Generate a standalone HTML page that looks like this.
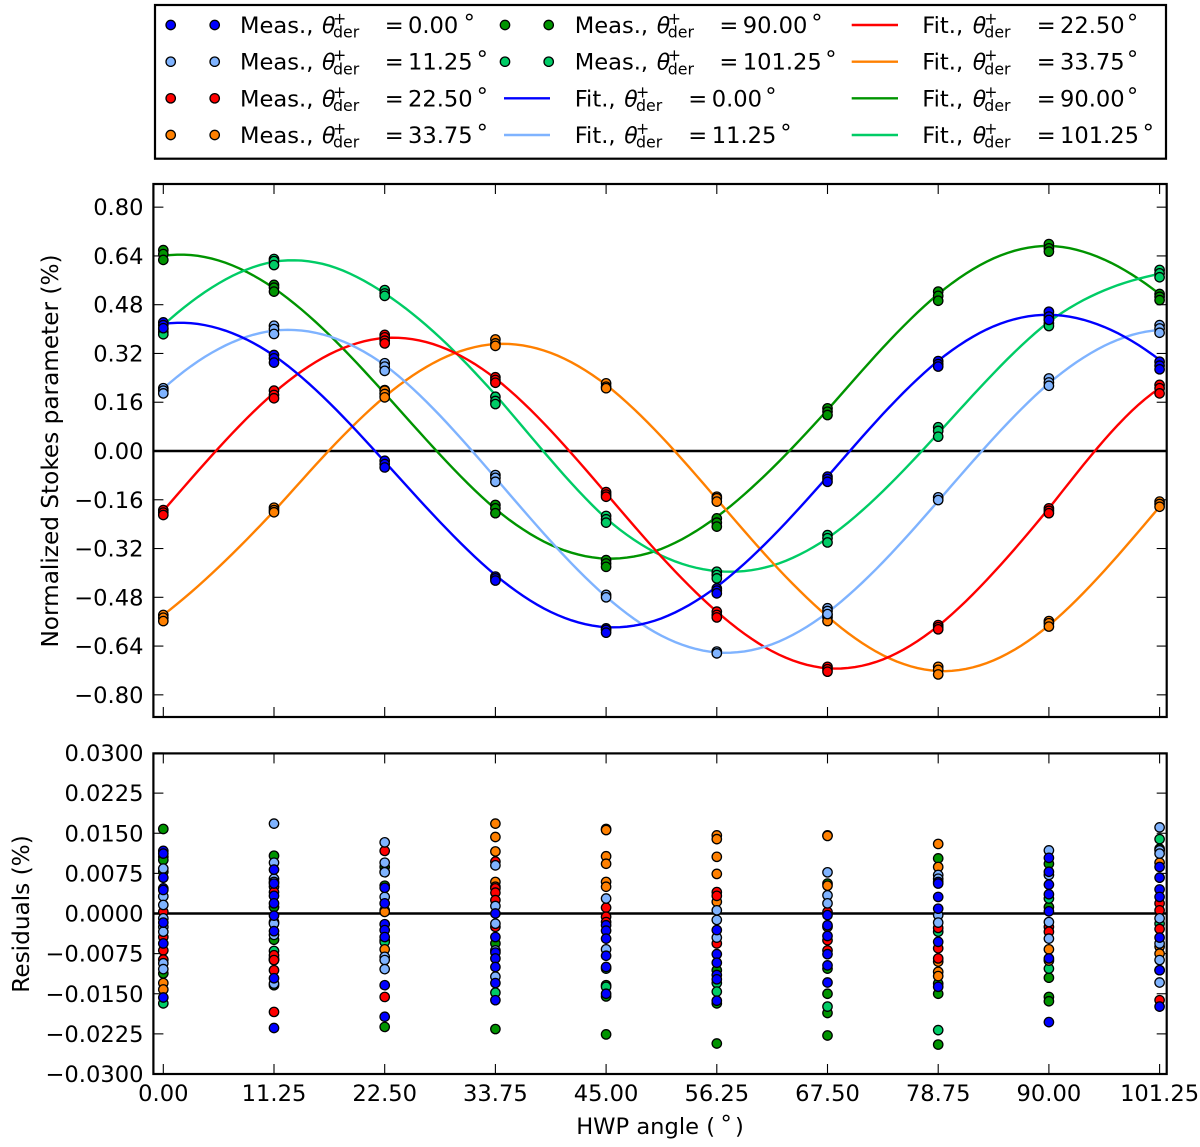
<!DOCTYPE html>
<html lang="en">
<head>
<meta charset="utf-8">
<title>Normalized Stokes parameter fits and residuals</title>
<style>
html,body{margin:0;padding:0;background:#fff;}
svg{display:block;}
text{font-family:"DejaVu Sans","Liberation Sans",sans-serif;font-size:22.6px;fill:#000;}
.th{font-style:italic;font-size:22px;}
.sub{font-size:15.8px;}
.mk{stroke:#000;stroke-width:1.3;}
.title{font-size:23.2px;}
</style>
</head>
<body>
<svg id="chart" xmlns="http://www.w3.org/2000/svg" width="1200" height="1147" viewBox="0 0 1200 1147">
<rect x="0" y="0" width="1200" height="1147" fill="#fff"/>

<g id="legend">
<rect x="155" y="5" width="1011" height="153.7" fill="#fff" stroke="#000" stroke-width="2.2"/>

<g transform="translate(240,25)">
<circle class="mk" cx="-69.3" r="4.7" fill="#0000ff"/><circle class="mk" cx="-25.3" r="4.7" fill="#0000ff"/>
<text x="0" y="8">Meas.,</text><text class="th" x="82" y="8">θ</text><text class="sub" x="93" y="-1">+</text><text class="sub" x="93" y="12.7">der</text><text x="144.7" y="8">=</text><text x="168" y="8">0.00</text><text x="223.6" y="5">°</text>
</g>
<g transform="translate(240,61.7)">
<circle class="mk" cx="-69.3" r="4.7" fill="#7fb3ff"/><circle class="mk" cx="-25.3" r="4.7" fill="#7fb3ff"/>
<text x="0" y="8">Meas.,</text><text class="th" x="82" y="8">θ</text><text class="sub" x="93" y="-1">+</text><text class="sub" x="93" y="12.7">der</text><text x="144.7" y="8">=</text><text x="168" y="8">11.25</text><text x="236.6" y="5">°</text>
</g>
<g transform="translate(240,98.3)">
<circle class="mk" cx="-69.3" r="4.7" fill="#ff0000"/><circle class="mk" cx="-25.3" r="4.7" fill="#ff0000"/>
<text x="0" y="8">Meas.,</text><text class="th" x="82" y="8">θ</text><text class="sub" x="93" y="-1">+</text><text class="sub" x="93" y="12.7">der</text><text x="144.7" y="8">=</text><text x="168" y="8">22.50</text><text x="236.6" y="5">°</text>
</g>
<g transform="translate(240,135)">
<circle class="mk" cx="-69.3" r="4.7" fill="#ff8000"/><circle class="mk" cx="-25.3" r="4.7" fill="#ff8000"/>
<text x="0" y="8">Meas.,</text><text class="th" x="82" y="8">θ</text><text class="sub" x="93" y="-1">+</text><text class="sub" x="93" y="12.7">der</text><text x="144.7" y="8">=</text><text x="168" y="8">33.75</text><text x="236.6" y="5">°</text>
</g>

<g transform="translate(574.7,25)">
<circle class="mk" cx="-69.7" r="4.7" fill="#009400"/><circle class="mk" cx="-26" r="4.7" fill="#009400"/>
<text x="0" y="8">Meas.,</text><text class="th" x="82" y="8">θ</text><text class="sub" x="93" y="-1">+</text><text class="sub" x="93" y="12.7">der</text><text x="144.7" y="8">=</text><text x="168" y="8">90.00</text><text x="236.6" y="5">°</text>
</g>
<g transform="translate(574.7,61.7)">
<circle class="mk" cx="-69.7" r="4.7" fill="#00cc66"/><circle class="mk" cx="-26" r="4.7" fill="#00cc66"/>
<text x="0" y="8">Meas.,</text><text class="th" x="82" y="8">θ</text><text class="sub" x="93" y="-1">+</text><text class="sub" x="93" y="12.7">der</text><text x="144.7" y="8">=</text><text x="168" y="8">101.25</text><text x="250.5" y="5">°</text>
</g>
<g transform="translate(574.7,98.3)">
<line x1="-70.7" x2="-24.7" y1="0" y2="0" stroke="#0000ff" stroke-width="2.4"/>
<text x="0" y="8">Fit.,</text><text class="th" x="49.6" y="8">θ</text><text class="sub" x="61.3" y="-1">+</text><text class="sub" x="61.3" y="12.7">der</text><text x="113.6" y="8">=</text><text x="137" y="8">0.00</text><text x="190.6" y="5">°</text>
</g>
<g transform="translate(574.7,135)">
<line x1="-70.7" x2="-24.7" y1="0" y2="0" stroke="#7fb3ff" stroke-width="2.4"/>
<text x="0" y="8">Fit.,</text><text class="th" x="49.6" y="8">θ</text><text class="sub" x="61.3" y="-1">+</text><text class="sub" x="61.3" y="12.7">der</text><text x="113.6" y="8">=</text><text x="137" y="8">11.25</text><text x="205.6" y="5">°</text>
</g>

<g transform="translate(922.3,25)">
<line x1="-70.6" x2="-24.3" y1="0" y2="0" stroke="#ff0000" stroke-width="2.4"/>
<text x="0" y="8">Fit.,</text><text class="th" x="50.4" y="8">θ</text><text class="sub" x="62" y="-1">+</text><text class="sub" x="62" y="12.7">der</text><text x="114.4" y="8">=</text><text x="137.7" y="8">22.50</text><text x="204.6" y="5">°</text>
</g>
<g transform="translate(922.3,61.7)">
<line x1="-70.6" x2="-24.3" y1="0" y2="0" stroke="#ff8000" stroke-width="2.4"/>
<text x="0" y="8">Fit.,</text><text class="th" x="50.4" y="8">θ</text><text class="sub" x="62" y="-1">+</text><text class="sub" x="62" y="12.7">der</text><text x="114.4" y="8">=</text><text x="137.7" y="8">33.75</text><text x="204.6" y="5">°</text>
</g>
<g transform="translate(922.3,98.3)">
<line x1="-70.6" x2="-24.3" y1="0" y2="0" stroke="#009400" stroke-width="2.4"/>
<text x="0" y="8">Fit.,</text><text class="th" x="50.4" y="8">θ</text><text class="sub" x="62" y="-1">+</text><text class="sub" x="62" y="12.7">der</text><text x="114.4" y="8">=</text><text x="137.7" y="8">90.00</text><text x="204.6" y="5">°</text>
</g>
<g transform="translate(922.3,135)">
<line x1="-70.6" x2="-24.3" y1="0" y2="0" stroke="#00cc66" stroke-width="2.4"/>
<text x="0" y="8">Fit.,</text><text class="th" x="50.4" y="8">θ</text><text class="sub" x="62" y="-1">+</text><text class="sub" x="62" y="12.7">der</text><text x="114.4" y="8">=</text><text x="137.7" y="8">101.25</text><text x="220.3" y="5">°</text>
</g>
</g>

<text class="title" x="0" y="0" text-anchor="middle" transform="translate(58,451) rotate(-90)">Normalized Stokes parameter (%)</text>
<text class="title" x="0" y="0" text-anchor="middle" transform="translate(29,914) rotate(-90)">Residuals (%)</text>
<g>
<text x="576.2" y="1134">HWP angle (</text><text x="720.5" y="1131">°</text><text x="735" y="1134">)</text>
</g>

<g id="topPlot"></g>
<g id="botPlot"></g>
</svg>

<script>
// ---- shared categories and tick labels ----
const hwpAngles = [0, 11.25, 22.5, 33.75, 45, 56.25, 67.5, 78.75, 90, 101.25];
const xTickLabels = ["0.00", "11.25", "22.50", "33.75", "45.00", "56.25", "67.50", "78.75", "90.00", "101.25"];
const topTickValues = [0.8, 0.64, 0.48, 0.32, 0.16, 0, -0.16, -0.32, -0.48, -0.64, -0.8];
const topTickLabels = ["0.80", "0.64", "0.48", "0.32", "0.16", "0.00", "\u22120.16", "\u22120.32", "\u22120.48", "\u22120.64", "\u22120.80"];
const botTickValues = [0.03, 0.0225, 0.015, 0.0075, 0, -0.0075, -0.015, -0.0225, -0.03];
const botTickLabels = ["0.0300", "0.0225", "0.0150", "0.0075", "0.0000", "\u22120.0075", "\u22120.0150", "\u22120.0225", "\u22120.0300"];

// ---- fitted curves, sampled every fitStep degrees of HWP angle ----
const fitStep = 5.625;
const fit000 = [.417,.402,.313,.158,-.035,-.233,-.407,-.528,-.578,-.549,-.445,-.282,-.084,.121,.296,.409,.447,.407,.299];
const fit1125 = [.205,.335,.395,.376,.282,.116,-.088,-.296,-.478,-.606,-.661,-.634,-.530,-.365,-.164,.042,.222,.345,.397];
const fit2250 = [-.196,.010,.191,.317,.371,.343,.238,.067,-.139,-.347,-.527,-.657,-.713,-.684,-.574,-.399,-.188,.036,.206];
const fit3375 = [-.538,-.381,-.197,.003,.178,.300,.351,.322,.217,.047,-.158,-.365,-.543,-.670,-.722,-.687,-.572,-.393,-.183];
const fit9000 = [.640,.625,.534,.381,.189,-.012,-.190,-.308,-.353,-.321,-.216,-.057,.135,.339,.515,.632,.673,.628,.515];
const fit10125 = [.413,.550,.621,.608,.517,.372,.184,-.029,-.221,-.343,-.394,-.376,-.286,-.132,.058,.255,.424,.527,.581];

// ---- measurements: one list per HWP angle ----
const meas000 = [[.422,.413,.403],[.315,.304,.290],[-.032,-.043,-.054],[-.412,-.418,-.425],[-.582,-.587,-.596],[-.451,-.458,-.467],[-.084,-.092,-.101],[.295,.285,.277],[.457,.441,.430],[.293,.280,.268]];
const meas1125 = [[.206,.198,.189],[.411,.400,.384],[.288,.277,.263],[-.079,-.088,-.101],[-.472,-.480],[-.658,-.664],[-.516,-.525,-.535],[-.152,-.161],[.238,.225,.214],[.413,.402,.388]];
const meas2250 = [[-.194,-.202,-.210],[.198,.184,.173],[.381,.373,.362,.353],[.242,.233,.224],[-.135,-.143,-.150],[-.527,-.538,-.546],[-.708,-.716,-.724],[-.571,-.578,-.585],[-.188,-.196,-.204],[.217,.206,.189]];
const meas3375 = [[-.538,-.547,-.558],[-.186,-.194,-.201],[.198,.187,.176],[.366,.353,.345],[.222,.211,.206],[-.150,-.155,-.166],[-.538,-.546,-.558],[-.708,-.718,-.733],[-.558,-.565,-.576],[-.166,-.174,-.183]];
const meas9000 = [[.659,.646,.627],[.545,.536,.523],[.200,.190,.180],[-.177,-.188,-.204],[-.358,-.369,-.380],[-.221,-.235,-.248],[.140,.129,.118],[.523,.509,.493],[.679,.665,.654],[.515,.506,.495]];
const meas10125 = [[.400,.390,.383],[.630,.623,.610],[.528,.517,.509],[.178,.164,.154],[-.213,-.224,-.235],[-.396,-.407,-.418],[-.276,-.286,-.300],[.078,.066,.047],[.432,.419,.410],[.594,.583,.570]];

// ---- residuals in units of 0.001 %, one list per HWP angle ----
const residualUnit = 0.001;
const res000 = [[11.7,11.2,6.7,4.7,4.4,-1.7,-5.6,-15.7],[8.2,5.6,3.3,1.9,-0.4,-3.3,-12.1,-21.4],[4.8,1.9,-2.0,-3.1,-4.4,-13.4,-19.3],[0,-4.4,-7.3,-8.4,-10.0,-13.0,-16.2],[-2.2,-3.2,-4.7,-7.9,-10.0,-15.0],[-3.1,-7.6,-9.2,-11.5,-12.3,-16.3],[-0.3,-2.2,-4.2,-7.6,-9.7,-12.9],[5.9,5.6,3.1,0.9,-5.3,-13.7],[10.4,7.8,5.4,3.6,0.4,-8.4,-20.3],[8.7,6.7,4.5,3.1,-4.5,-10.6,-17.4]];
const res1125 = [[8.4,3.2,1.6,-0.9,-2.5,-3.4,-9.3,-10.4],[16.8,9.5,6.5,5.9,-1.6,-1.9,-4.0,-13.1],[13.3,9.5,7.7,3.1,-8.1,-8.7,-10.4],[9.0,1.4,-1.9,-6.9,-11.8],[2.8,-6.7],[0.6,-1.2,-4.5],[7.7,3.4,1.9],[7.2,6.5,-0.3,-1.7],[11.8,7.2,-1.6,-4.7],[16.1,11.8,11.2,-0.9,-5.6,-8.7,-12.9]];
const res2250 = [[0.3,-4.4,-6.9,-8.6],[4.0,-7.8,-8.7,-10.6,-18.4],[11.7,-15.6],[9.7,4.7,3.9,2.5,-2.5],[1.1,-0.6,-1.6],[4.0,3.3,-5.6],[0.3,-5.0,-6.9],[-2.7,-6.5,-8.4],[-2.5,-3.4],[1.9,0.6,-2.9,-16.2]];
const res3375 = [[-13.0,-14.2],[5.0,-8.4],[0.6,0.3,-6.7],[16.8,14.3,11.6,5.9,5.0],[15.6,10.7,9.3,5.9,5.0],[14.6,13.9,10.6,7.4,2.2],[14.5,5.2,-2.5],[13.0,8.7,-9.0,-10.9,-11.7],[-6.7,-8.8],[9.5,-6.2,-7.5]];
const res9000 = [[15.8,10.6,10.0,7.8,-11.2],[10.8,1.2,-4.9,-8.7,-13.4],[8.7,5.2,-5.0,-21.2],[-5.6,-21.6],[15.8,-13.4,-15.5,-22.6],[-10.6,-16.8,-24.3],[14.6,5.6,-10.3,-15.0,-18.6,-22.8],[10.3,-13.1,-15.0,-24.5],[9.3,1.2,-12.0,-15.6,-16.4],[12.1,-10.6]];
const res10125 = [[-16.8],[-7.0],[7.8,-5.3],[-14.8],[-10.3,-13.7],[-13.0,-14.6],[-17.4],[-3.4,-21.8],[2.8,-10.3],[13.9,-1.9]];

const seriesNames = ["90-00", "101-25", "33-75", "22-50", "11-25", "0-00"];
const seriesColors = ["#009400", "#00cc66", "#ff8000", "#ff0000", "#7fb3ff", "#0000ff"];
const seriesFits = [fit9000, fit10125, fit3375, fit2250, fit1125, fit000];
const seriesMeas = [meas9000, meas10125, meas3375, meas2250, meas1125, meas000];
const seriesRes = [res9000, res10125, res3375, res2250, res1125, res000];

// ---- axis functions ----
const AX_LEFT = 153.4, AX_RIGHT = 1166.7;
const TOP_T = 184, TOP_B = 717, BOT_T = 753.4, BOT_B = 1074;
function xScale(v) { return 163.3 + v * 9.84; }
function yTop(v) { return 451 - v * 304.8; }
function yBot(v) { return 913.5 - v * 5350; }

const NS = "http://www.w3.org/2000/svg";
function el(parent, tag, attrs) {
  const e = document.createElementNS(NS, tag);
  for (const k in attrs) e.setAttribute(k, attrs[k]);
  parent.appendChild(e);
  return e;
}

function densePath(values) {
  // smooth local cubic through the sampled fit values
  let d = "";
  const n = values.length;
  for (let i = 0; i < n - 1; i++) {
    const s = Math.max(0, Math.min(n - 4, i - 1));
    for (let k = 0; k <= 8; k++) {
      if (i > 0 && k === 0) continue;
      const t = i + k / 8;
      let y = 0;
      for (let a = 0; a < 4; a++) {
        let w = 1;
        for (let b = 0; b < 4; b++) if (b !== a) w *= (t - (s + b)) / (a - b);
        y += w * values[s + a];
      }
      d += (d ? "L" : "M") + xScale(t * fitStep).toFixed(2) + " " + yTop(y).toFixed(2);
    }
  }
  return d;
}

function drawAxes(g, prefix, top, bottom, yFn, tickValues, tickLabels) {
  for (let i = 0; i < hwpAngles.length; i++) {
    const x = xScale(hwpAngles[i]);
    const t1 = el(g, "line", {x1: x, x2: x, y1: bottom, y2: bottom - 10, stroke: "#000", "stroke-width": 1.1});
    
    
    const t2 = el(g, "line", {x1: x, x2: x, y1: top, y2: top + 10, stroke: "#000", "stroke-width": 1.1});
    
    
  }
  for (let i = 0; i < tickValues.length; i++) {
    const y = yFn(tickValues[i]);
    const t1 = el(g, "line", {x1: AX_LEFT, x2: AX_LEFT + 10, y1: y, y2: y, stroke: "#000", "stroke-width": 1.1});
    
    
    const t2 = el(g, "line", {x1: AX_RIGHT, x2: AX_RIGHT - 10, y1: y, y2: y, stroke: "#000", "stroke-width": 1.1});
    
    
    const lab = el(g, "text", {x: 143.5, y: y + 8, "text-anchor": "end"});
    lab.textContent = tickLabels[i];
    
    
  }
  const zero = el(g, "line", {x1: AX_LEFT, x2: AX_RIGHT, y1: yFn(0), y2: yFn(0), stroke: "#000", "stroke-width": 2.4});
  
  
}

function drawFrame(g, prefix, top, bottom) {
  const f = el(g, "rect", {x: AX_LEFT, y: top, width: AX_RIGHT - AX_LEFT, height: bottom - top, fill: "none", stroke: "#000", "stroke-width": 2.2});
  
  
}

// ---- top panel ----
const gTop = document.getElementById("topPlot");
drawAxes(gTop, "stokes", TOP_T, TOP_B, yTop, topTickValues, topTickLabels);
for (let s = 0; s < seriesFits.length; s++) {
  const p = el(gTop, "path", {d: densePath(seriesFits[s]), fill: "none", stroke: seriesColors[s], "stroke-width": 2.4});
  
  
}
for (let s = 0; s < seriesMeas.length; s++) {
  for (let c = 0; c < hwpAngles.length; c++) {
    for (const v of seriesMeas[s][c]) {
      const m = el(gTop, "circle", {cx: xScale(hwpAngles[c]), cy: yTop(v), r: 4.7, fill: seriesColors[s], stroke: "#000", "stroke-width": 1.3});
      
      
    }
  }
}
drawFrame(gTop, "stokes", TOP_T, TOP_B);

// ---- bottom panel ----
const gBot = document.getElementById("botPlot");
drawAxes(gBot, "residuals", BOT_T, BOT_B, yBot, botTickValues, botTickLabels);
for (let s = 0; s < seriesRes.length; s++) {
  for (let c = 0; c < hwpAngles.length; c++) {
    for (const v of seriesRes[s][c]) {
      const m = el(gBot, "circle", {cx: xScale(hwpAngles[c]), cy: yBot(v * residualUnit), r: 4.7, fill: seriesColors[s], stroke: "#000", "stroke-width": 1.3});
      
      
    }
  }
}
drawFrame(gBot, "residuals", BOT_T, BOT_B);
for (let i = 0; i < hwpAngles.length; i++) {
  const lab = el(gBot, "text", {x: xScale(hwpAngles[i]), y: 1101, "text-anchor": "middle"});
  lab.textContent = xTickLabels[i];
  
  
}
</script>
</body>
</html>
